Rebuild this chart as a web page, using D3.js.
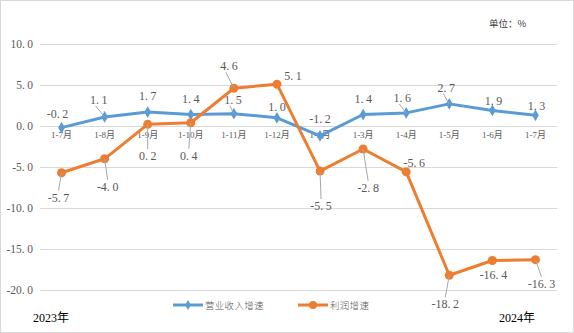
<!DOCTYPE html>
<html>
<head>
<meta charset="utf-8">
<script src="https://cdn.jsdelivr.net/npm/d3@7"></script>
<style>
  html, body { margin: 0; padding: 0; background: #fff; }
  svg { display: block; }
  text { font-family: "Liberation Serif", "Noto Sans CJK SC", serif; fill: #595959; }
</style>
</head>
<body>
<svg id="chart" width="574" height="333"></svg>
<script>
// Monthly cumulative periods
const categories = ["1-7月", "1-8月", "1-9月", "1-10月", "1-11月", "1-12月", "1-2月", "1-3月", "1-4月", "1-5月", "1-6月", "1-7月"];
// 营业收入增速 (%)
const revenueGrowth = [-0.2, 1.1, 1.7, 1.4, 1.5, 1.0, -1.2, 1.4, 1.6, 2.7, 1.9, 1.3];
// 利润增速 (%)
const profitGrowth = [-5.7, -4.0, 0.2, 0.4, 4.6, 5.1, -5.5, -2.8, -5.6, -18.2, -16.4, -16.3];
const yTicks = [10, 5, 0, -5, -10, -15, -20];
const seriesNames = ["营业收入增速", "利润增速"];

// Label placement offsets relative to each point [dx, dy] (text centre)
const revenueLabelOffsets = [[-4, -14], [-6, -17], [0, -16], [0, -16], [-1, -14], [0, -11], [0, -17], [0, -16], [-4, -15], [-3, -16], [1, -9], [1, -9]];
const profitLabelOffsets = [[-3, 25], [3, 28], [0, 32], [-2, 33], [-5, -22], [16, -8], [1, 35], [5, 39], [8, -9], [-4, 29], [1, 15], [6, 24]];
// Which labels are tied to their point with a leader line
const revenueLeaders = [false, true, false, false, true, false, false, false, true, true, false, false];
const profitLeaders = [true, true, true, true, true, false, true, true, false, true, false, true];

const SERIF = '"Liberation Serif", serif';
const CJK = '"Liberation Serif", "Noto Sans CJK SC", serif';

const svg = d3.select("#chart");
const W = 574, H = 333;
const plot = { left: 40, right: 557, top: 44, bottom: 290 };

const x = d3.scaleBand().domain(d3.range(categories.length)).range([plot.left, plot.right]);
const y = d3.scaleLinear().domain([-20, 10]).range([plot.bottom, plot.top]);
const cx = i => x(i) + x.bandwidth() / 2;

// Writes a number with a small gap after the decimal point
function spacedNumber(textSel, v) {
  const [intPart, decPart] = v.toFixed(1).split(".");
  textSel.text(null);
  textSel.append("tspan").text(intPart + ".");
  textSel.append("tspan").attr("dx", 2.5).text(decPart);
}

// outer frame
svg.append("rect").attr("x", 0.5).attr("y", 0.5).attr("width", W - 1).attr("height", H - 1)
  .attr("fill", "none").attr("stroke", "#d9d9d9").attr("stroke-width", 1);

// gridlines
svg.append("g").selectAll("line").data(yTicks).join("line")
  .attr("x1", plot.left).attr("x2", plot.right)
  .attr("y1", d => Math.round(y(d)) + 0.5).attr("y2", d => Math.round(y(d)) + 0.5)
  .attr("stroke", "#d9d9d9").attr("stroke-width", 1);

// y axis labels
const yAxis = d3.axisLeft(y).tickValues(yTicks).tickSize(0).tickPadding(0).tickFormat(d => d.toFixed(1));
const yg = svg.append("g").attr("transform", `translate(${plot.left - 7},0)`).call(yAxis);
yg.attr("font-family", null);
yg.select(".domain").remove();
yg.selectAll("text").attr("font-size", 11.5)
  .style("font-family", SERIF).style("fill", "#595959")
  .each(function(d) { spacedNumber(d3.select(this), d); });

// category labels sit just below the zero line
const xAxis = d3.axisBottom(x).tickSize(0).tickPadding(0).tickFormat(i => categories[i]);
const xg = svg.append("g").attr("transform", `translate(0,${y(0) + 6})`).call(xAxis);
xg.attr("font-family", null);
xg.select(".domain").remove();
xg.selectAll("text").attr("font-size", 9).style("fill", "#595959").style("font-family", CJK);

// series lines
const line = d3.line().x((d, i) => cx(i)).y(d => y(d));
svg.append("path").datum(revenueGrowth).attr("d", line)
  .attr("fill", "none").attr("stroke", "#5B9BD5").attr("stroke-width", 3).attr("stroke-linejoin", "round");
svg.append("path").datum(profitGrowth).attr("d", line)
  .attr("fill", "none").attr("stroke", "#ED7D31").attr("stroke-width", 3).attr("stroke-linejoin", "round");

// markers
const diamond = d3.symbol().type(d3.symbolDiamond).size(40);
svg.append("g").selectAll("path").data(revenueGrowth).join("path")
  .attr("d", diamond).attr("transform", (d, i) => `translate(${cx(i)},${y(d)})`)
  .attr("fill", "#5B9BD5");
svg.append("g").selectAll("circle").data(profitGrowth).join("circle")
  .attr("cx", (d, i) => cx(i)).attr("cy", d => y(d)).attr("r", 4.5)
  .attr("fill", "#ED7D31");

// data labels with optional leader lines
function drawLabels(values, offsets, leaders) {
  const g = svg.append("g");
  values.forEach((v, i) => {
    const px = cx(i), py = y(v);
    const lx = px + offsets[i][0], ly = py + offsets[i][1];
    if (leaders[i]) {
      const dy = offsets[i][1];
      const endY = dy > 0 ? ly - 7 : ly + 6;
      g.append("line").attr("x1", px).attr("y1", py).attr("x2", lx + (dy > 0 ? 0 : -3)).attr("y2", endY)
        .attr("stroke", "#a6a6a6").attr("stroke-width", 1);
    }
    const t = g.append("text").attr("x", lx).attr("y", ly).attr("text-anchor", "middle")
      .attr("dominant-baseline", "central").attr("font-size", 12)
      .style("font-family", SERIF);
    spacedNumber(t, v);
  });
}
drawLabels(revenueGrowth, revenueLabelOffsets, revenueLeaders);
drawLabels(profitGrowth, profitLabelOffsets, profitLeaders);

// legend
const legendDiamond = d3.symbol().type(d3.symbolDiamond).size(28);
const legend = svg.append("g").attr("transform", "translate(0,305)");
legend.append("line").attr("x1", 173).attr("x2", 203).attr("stroke", "#5B9BD5").attr("stroke-width", 3);
legend.append("path").attr("d", legendDiamond).attr("transform", "translate(188,0)").attr("fill", "#5B9BD5");
legend.append("text").attr("x", 205).attr("y", 0).attr("dominant-baseline", "central")
  .attr("font-size", 9.5).attr("letter-spacing", "0.3px")
  .style("font-family", '"Noto Sans CJK SC", sans-serif').style("font-weight", 300).text(seriesNames[0]);
legend.append("line").attr("x1", 298).attr("x2", 328).attr("stroke", "#ED7D31").attr("stroke-width", 3);
legend.append("circle").attr("cx", 313).attr("cy", 0).attr("r", 4).attr("fill", "#ED7D31");
legend.append("text").attr("x", 330).attr("y", 0).attr("dominant-baseline", "central")
  .attr("font-size", 9.5).attr("letter-spacing", "0.3px")
  .style("font-family", '"Noto Sans CJK SC", sans-serif').style("font-weight", 300).text(seriesNames[1]);

// year and unit annotations
svg.append("text").attr("x", 33).attr("y", 322).attr("font-size", 12)
  .style("fill", "#000").style("font-family", CJK).text("2023年");
svg.append("text").attr("x", 499).attr("y", 322).attr("font-size", 12)
  .style("fill", "#000").style("font-family", CJK).text("2024年");
svg.append("text").attr("x", 489).attr("y", 27).attr("font-size", 9.5)
  .style("fill", "#404040").style("font-family", '"Noto Sans CJK SC", sans-serif').text("单位：%");
</script>
</body>
</html>
